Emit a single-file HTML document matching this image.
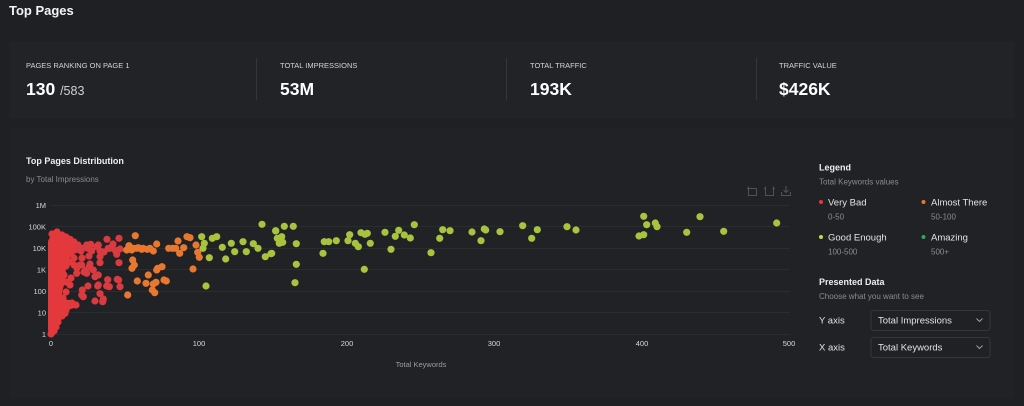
<!DOCTYPE html>
<html>
<head>
<meta charset="utf-8">
<style>
  html,body{margin:0;padding:0;background:#1e2023;}
  body{width:1024px;height:406px;overflow:hidden;font-family:"Liberation Sans",sans-serif;}
  svg{display:block;}
  text{font-family:"Liberation Sans",sans-serif;}
</style>
</head>
<body>
<svg width="1024" height="406" viewBox="0 0 1024 406" xmlns="http://www.w3.org/2000/svg">
  <rect x="0" y="0" width="1024" height="406" fill="#1e2023"/>
  <!-- cards -->
  <rect x="10" y="41" width="1004" height="78" fill="#212326"/>
  <rect x="10" y="128" width="1004" height="270" fill="#202225"/>

  <!-- header -->
  <text x="9" y="15" font-size="13" font-weight="bold" fill="#f4f4f4">Top Pages</text>

  <!-- stats -->
  <g font-size="7.5" fill="#d4d4d4">
    <text x="26" y="68">PAGES RANKING ON PAGE 1</text>
    <text x="280" y="68">TOTAL IMPRESSIONS</text>
    <text x="530" y="68">TOTAL TRAFFIC</text>
    <text x="779" y="68">TRAFFIC VALUE</text>
  </g>
  <g font-size="17.5" font-weight="bold" fill="#ffffff">
    <text x="26" y="95">130 <tspan font-size="12.5" font-weight="normal" fill="#d0d0d0">/583</tspan></text>
    <text x="280" y="95">53M</text>
    <text x="530" y="95">193K</text>
    <text x="779" y="95">$426K</text>
  </g>
  <g stroke="#34363a" stroke-width="1">
    <line x1="256.5" y1="58" x2="256.5" y2="100"/>
    <line x1="506.5" y1="58" x2="506.5" y2="100"/>
    <line x1="756.5" y1="58" x2="756.5" y2="100"/>
  </g>

  <!-- chart title -->
  <text x="26" y="164" font-size="9" font-weight="bold" fill="#eeeeee">Top Pages Distribution</text>
  <text x="26" y="182" font-size="8" fill="#8a8c90">by Total Impressions</text>

  <!-- toolbar icons -->
  <g stroke="#505256" stroke-width="1" fill="none">
    <path d="M748.5,186.5 L748.5,188.5 M747,188.5 L756.5,188.5 M748.5,188.5 L748.5,195.5 L756.5,195.5 L756.5,188.5"/>
    <path d="M765.5,186.5 L765.5,195.5 L773.5,195.5 L773.5,186.5 M764,188.5 L766,188.5 M772.5,188.5 L775,188.5"/>
    <path d="M781.5,192 L781.5,195.5 L790.5,195.5 L790.5,192 M786,186 L786,192.5 M783.5,190 L786,192.5 L788.5,190"/>
  </g>

  <!-- grid -->
  <g stroke="#2a2c30" stroke-width="1">
    <line x1="51" y1="205.5" x2="790" y2="205.5"/>
    <line x1="51" y1="226.5" x2="790" y2="226.5"/>
    <line x1="51" y1="248.5" x2="790" y2="248.5"/>
    <line x1="51" y1="269.5" x2="790" y2="269.5"/>
    <line x1="51" y1="291.5" x2="790" y2="291.5"/>
    <line x1="51" y1="312.5" x2="790" y2="312.5"/>
    <line x1="51" y1="334.5" x2="790" y2="334.5"/>
  </g>

  <!-- y labels -->
  <g font-size="7.5" fill="#d8d8d8" text-anchor="end">
    <text x="46" y="208">1M</text>
    <text x="46" y="229.5">100K</text>
    <text x="46" y="251">10K</text>
    <text x="46" y="272.5">1K</text>
    <text x="46" y="294">100</text>
    <text x="46" y="315.5">10</text>
    <text x="46" y="337">1</text>
  </g>
  <!-- x labels -->
  <g font-size="7.5" fill="#d8d8d8" text-anchor="middle">
    <text x="51" y="346">0</text>
    <text x="199" y="346">100</text>
    <text x="347" y="346">200</text>
    <text x="494" y="346">300</text>
    <text x="642" y="346">400</text>
    <text x="789" y="346">500</text>
  </g>
  <text x="421" y="367" font-size="7.5" fill="#9a9ca0" text-anchor="middle">Total Keywords</text>

  <!-- dense red core -->
  <path d="M49,239 Q52,233 58,233 L66,236 L74,239 L79,244 L79,250 L73,254 L68,259 L66,268 L65,282 L62,292 L62,299 L70,300 L76,302 L77,307 L68,310 L61,314 L58,322 L56,330 L54,335 L49,335 L48,330 L48,241 Z" fill="#e3393d"/>

  <!-- red points -->
  <g fill="#e3393d">
    <circle cx="52" cy="234" r="3.6"/><circle cx="57" cy="232" r="3.6"/><circle cx="58.7" cy="236.7" r="3.6"/>
    <circle cx="62" cy="235" r="3.6"/><circle cx="66" cy="237" r="3.6"/><circle cx="70" cy="239.3" r="3.6"/>
    <circle cx="74" cy="242" r="3.6"/><circle cx="78" cy="245" r="3.6"/><circle cx="80" cy="250" r="3.6"/>
    <circle cx="75" cy="250" r="3.6"/><circle cx="71" cy="253" r="3.6"/><circle cx="67" cy="256" r="3.6"/>
    <circle cx="64" cy="258" r="3.6"/><circle cx="69" cy="262" r="3.6"/><circle cx="74" cy="265" r="3.6"/>
    <circle cx="77" cy="268" r="3.6"/><circle cx="64" cy="275" r="3.6"/><circle cx="71" cy="278" r="3.6"/>
    <circle cx="74" cy="258" r="3.6"/><circle cx="82" cy="258" r="3.6"/><circle cx="84" cy="272" r="3.6"/>
    <circle cx="70" cy="285" r="3.6"/><circle cx="66" cy="292" r="3.6"/><circle cx="72" cy="303" r="3.6"/>
    <circle cx="76" cy="305" r="3.6"/><circle cx="66" cy="310" r="3.6"/><circle cx="62" cy="316" r="3.6"/>
    <circle cx="58" cy="322" r="3.6"/><circle cx="56" cy="327" r="3.6"/><circle cx="54" cy="331" r="3.6"/>
    <circle cx="51" cy="334" r="3.6"/><circle cx="65" cy="313.3" r="3.6"/><circle cx="70" cy="305" r="3.6"/>
    <circle cx="66" cy="266" r="3.6"/><circle cx="66" cy="282" r="3.6"/><circle cx="63" cy="298" r="3.6"/>
    <circle cx="58" cy="318" r="3.6"/>
  </g>
  <g fill="#d93b40">
    <circle cx="107" cy="239.3" r="3.6"/><circle cx="119" cy="238.3" r="3.6"/>
    <circle cx="90.7" cy="244.3" r="3.6"/><circle cx="98.3" cy="245" r="3.6"/><circle cx="110" cy="248.3" r="3.6"/>
    <circle cx="115.3" cy="250.3" r="3.6"/><circle cx="120" cy="249" r="3.6"/><circle cx="82" cy="248.3" r="3.6"/>
    <circle cx="87.7" cy="248.3" r="3.6"/><circle cx="100" cy="256.7" r="3.6"/><circle cx="116.7" cy="254.3" r="3.6"/>
    <circle cx="81.7" cy="265" r="3.6"/><circle cx="86" cy="270.3" r="3.6"/><circle cx="90" cy="264" r="3.6"/>
    <circle cx="93.3" cy="270" r="3.6"/><circle cx="98.3" cy="275" r="3.6"/><circle cx="119" cy="262.7" r="3.6"/>
    <circle cx="107.7" cy="279.7" r="3.6"/><circle cx="118.7" cy="280" r="3.6"/><circle cx="120" cy="286.7" r="3.6"/>
    <circle cx="98.3" cy="285" r="3.6"/><circle cx="109.3" cy="286.7" r="3.6"/><circle cx="88" cy="286" r="3.6"/>
    <circle cx="100" cy="293.7" r="3.6"/><circle cx="95" cy="301" r="3.6"/><circle cx="102.7" cy="301.7" r="3.6"/>
    <circle cx="82.3" cy="290" r="3.6"/><circle cx="81.7" cy="295" r="3.6"/>
    <circle cx="81" cy="251" r="3.6"/><circle cx="91.7" cy="251" r="3.6"/><circle cx="100" cy="251" r="3.6"/>
    <circle cx="108.3" cy="248.3" r="3.6"/><circle cx="76.7" cy="246.7" r="3.6"/><circle cx="86.7" cy="245" r="3.6"/>
    <circle cx="96.7" cy="246.7" r="3.6"/><circle cx="89" cy="256" r="3.6"/><circle cx="80" cy="265" r="3.6"/>
    <circle cx="89.3" cy="266.7" r="3.6"/><circle cx="100" cy="262.7" r="3.6"/><circle cx="76.7" cy="273.3" r="3.6"/>
    <circle cx="86.7" cy="273.3" r="3.6"/><circle cx="95" cy="276.7" r="3.6"/><circle cx="106.7" cy="286" r="3.6"/>
    <circle cx="117.3" cy="279.3" r="3.6"/><circle cx="97.7" cy="286" r="3.6"/><circle cx="83.3" cy="296.7" r="3.6"/>
    <circle cx="103.3" cy="299" r="3.6"/><circle cx="113" cy="244" r="3.6"/><circle cx="104" cy="252" r="3.6"/>
  </g>

  <!-- orange points -->
  <g fill="#e8782f">
    <circle cx="135.3" cy="235.7" r="3.6"/><circle cx="129" cy="245.7" r="3.6"/><circle cx="133.7" cy="248.3" r="3.6"/>
    <circle cx="138.3" cy="247.7" r="3.6"/><circle cx="143" cy="248.3" r="3.6"/><circle cx="147.3" cy="249.3" r="3.6"/>
    <circle cx="150" cy="248.3" r="3.6"/><circle cx="156.7" cy="244" r="3.6"/><circle cx="126.7" cy="250" r="3.6"/>
    <circle cx="131.7" cy="250" r="3.6"/><circle cx="132.7" cy="260" r="3.6"/><circle cx="134.3" cy="265" r="3.6"/>
    <circle cx="132" cy="268.3" r="3.6"/><circle cx="157.7" cy="268.3" r="3.6"/><circle cx="162" cy="266.7" r="3.6"/>
    <circle cx="148.3" cy="275" r="3.6"/><circle cx="137.3" cy="281" r="3.6"/><circle cx="146" cy="283.3" r="3.6"/>
    <circle cx="153.3" cy="284" r="3.6"/><circle cx="156" cy="282.3" r="3.6"/><circle cx="164" cy="280" r="3.6"/>
    <circle cx="166.3" cy="281" r="3.6"/><circle cx="152.3" cy="290" r="3.6"/><circle cx="154.7" cy="292.7" r="3.6"/>
    <circle cx="127.7" cy="295" r="3.6"/><circle cx="168.7" cy="248.3" r="3.6"/><circle cx="172.7" cy="248.3" r="3.6"/>
    <circle cx="178" cy="241" r="3.6"/><circle cx="183.7" cy="247.7" r="3.6"/><circle cx="179.7" cy="253.3" r="3.6"/>
    <circle cx="187" cy="236.7" r="3.6"/><circle cx="190" cy="237.7" r="3.6"/><circle cx="196" cy="245" r="3.6"/>
    <circle cx="197.7" cy="252.3" r="3.6"/><circle cx="199.3" cy="257.3" r="3.6"/><circle cx="193" cy="269" r="3.6"/>
    <circle cx="175.7" cy="248.3" r="3.6"/><circle cx="153.3" cy="251" r="3.6"/><circle cx="141.7" cy="249.3" r="3.6"/>
    <circle cx="136.7" cy="248.3" r="3.6"/><circle cx="156.7" cy="270" r="3.6"/>
  </g>

  <!-- green points -->
  <g fill="#a9c33f">
    <circle cx="201.7" cy="236.7" r="3.6"/><circle cx="204.3" cy="243.3" r="3.6"/><circle cx="203" cy="248.3" r="3.6"/>
    <circle cx="212.3" cy="238.3" r="3.6"/><circle cx="216.7" cy="236.7" r="3.6"/><circle cx="209.3" cy="257.7" r="3.6"/>
    <circle cx="206" cy="286" r="3.6"/><circle cx="222.3" cy="247.3" r="3.6"/><circle cx="225.7" cy="259" r="3.6"/>
    <circle cx="231.3" cy="243.3" r="3.6"/><circle cx="234.7" cy="251.7" r="3.6"/><circle cx="243" cy="241.7" r="3.6"/>
    <circle cx="246.3" cy="251.7" r="3.6"/><circle cx="253.3" cy="243.7" r="3.6"/><circle cx="258" cy="248.3" r="3.6"/>
    <circle cx="262" cy="224.3" r="3.6"/><circle cx="265.3" cy="256.7" r="3.6"/><circle cx="271" cy="253.7" r="3.6"/>
    <circle cx="275.7" cy="230.7" r="3.6"/><circle cx="277.3" cy="238.3" r="3.6"/><circle cx="279.3" cy="243.3" r="3.6"/>
    <circle cx="275.7" cy="231" r="3.6"/><circle cx="284.3" cy="226.3" r="3.6"/><circle cx="293.3" cy="226.3" r="3.6"/>
    <circle cx="280" cy="241.7" r="3.6"/><circle cx="282.7" cy="242.3" r="3.6"/><circle cx="281.7" cy="236.7" r="3.6"/>
    <circle cx="271.7" cy="253.3" r="3.6"/><circle cx="296.3" cy="243.7" r="3.6"/><circle cx="296.3" cy="264.3" r="3.6"/>
    <circle cx="295" cy="282.7" r="3.6"/><circle cx="323" cy="253.3" r="3.6"/><circle cx="324.3" cy="241.7" r="3.6"/>
    <circle cx="328.7" cy="241.7" r="3.6"/><circle cx="336.3" cy="240.7" r="3.6"/><circle cx="348" cy="240.7" r="3.6"/>
    <circle cx="349.7" cy="234.7" r="3.6"/><circle cx="355.3" cy="243.3" r="3.6"/><circle cx="358.3" cy="246.7" r="3.6"/>
    <circle cx="361" cy="232.7" r="3.6"/><circle cx="365" cy="234.3" r="3.6"/><circle cx="367.3" cy="233.3" r="3.6"/>
    <circle cx="370.3" cy="243.3" r="3.6"/><circle cx="364.3" cy="269.3" r="3.6"/><circle cx="385" cy="232.3" r="3.6"/>
    <circle cx="391" cy="249.3" r="3.6"/><circle cx="395.3" cy="236.3" r="3.6"/><circle cx="398.7" cy="230.3" r="3.6"/>
    <circle cx="404.3" cy="235" r="3.6"/><circle cx="410.3" cy="238" r="3.6"/><circle cx="414.3" cy="224.7" r="3.6"/>
    <circle cx="431" cy="252.7" r="3.6"/><circle cx="439.7" cy="238.3" r="3.6"/><circle cx="442.7" cy="229.7" r="3.6"/>
    <circle cx="450" cy="230.7" r="3.6"/><circle cx="472" cy="232" r="3.6"/><circle cx="481" cy="240.7" r="3.6"/>
    <circle cx="484.3" cy="229" r="3.6"/><circle cx="485.7" cy="230" r="3.6"/><circle cx="500" cy="231.7" r="3.6"/>
    <circle cx="522.7" cy="225.7" r="3.6"/><circle cx="531.7" cy="238.3" r="3.6"/><circle cx="537.3" cy="229.7" r="3.6"/>
    <circle cx="567" cy="226.7" r="3.6"/><circle cx="576" cy="230" r="3.6"/><circle cx="643.7" cy="216.3" r="3.6"/>
    <circle cx="646.7" cy="224.7" r="3.6"/><circle cx="655.3" cy="223" r="3.6"/><circle cx="657" cy="226.7" r="3.6"/>
    <circle cx="639" cy="236" r="3.6"/><circle cx="643.7" cy="234.7" r="3.6"/><circle cx="686.7" cy="232.3" r="3.6"/>
    <circle cx="700" cy="216.7" r="3.6"/><circle cx="723.7" cy="231.3" r="3.6"/><circle cx="776.7" cy="223" r="3.6"/>
  </g>

  <!-- legend -->
  <text x="819" y="170.5" font-size="9" font-weight="bold" fill="#eeeeee">Legend</text>
  <text x="819" y="184.5" font-size="8" fill="#8a8c90">Total Keywords values</text>

  <circle cx="821" cy="202" r="2" fill="#e5383c"/>
  <text x="828" y="205.5" font-size="9.5" fill="#e4e4e4">Very Bad</text>
  <text x="828" y="219.5" font-size="8" fill="#8a8c90">0-50</text>

  <circle cx="923.5" cy="202" r="2" fill="#e8782f"/>
  <text x="931" y="205.5" font-size="9.5" fill="#e4e4e4">Almost There</text>
  <text x="931" y="219.5" font-size="8" fill="#8a8c90">50-100</text>

  <circle cx="821" cy="237" r="2" fill="#c8d94a"/>
  <text x="828" y="240.5" font-size="9.5" fill="#e4e4e4">Good Enough</text>
  <text x="828" y="254.5" font-size="8" fill="#8a8c90">100-500</text>

  <circle cx="923.5" cy="237" r="2" fill="#2fa85a"/>
  <text x="931" y="240.5" font-size="9.5" fill="#e4e4e4">Amazing</text>
  <text x="931" y="254.5" font-size="8" fill="#8a8c90">500+</text>

  <text x="819" y="285" font-size="9" font-weight="bold" fill="#eeeeee">Presented Data</text>
  <text x="819" y="299" font-size="8" fill="#8a8c90">Choose what you want to see</text>

  <text x="819" y="323.5" font-size="9.5" fill="#e4e4e4">Y axis</text>
  <rect x="871" y="310.5" width="119" height="20" rx="3" fill="#1f2124" stroke="#34363a"/>
  <text x="878" y="323.5" font-size="9.5" fill="#e4e4e4">Total Impressions</text>
  <path d="M976.5,318.5 L979.5,321.5 L982.5,318.5" stroke="#9a9ca0" stroke-width="1" fill="none"/>

  <text x="819" y="350.5" font-size="9.5" fill="#e4e4e4">X axis</text>
  <rect x="871" y="337.5" width="119" height="20" rx="3" fill="#1f2124" stroke="#34363a"/>
  <text x="878" y="350.5" font-size="9.5" fill="#e4e4e4">Total Keywords</text>
  <path d="M976.5,345.5 L979.5,348.5 L982.5,345.5" stroke="#9a9ca0" stroke-width="1" fill="none"/>
</svg>
</body>
</html>
